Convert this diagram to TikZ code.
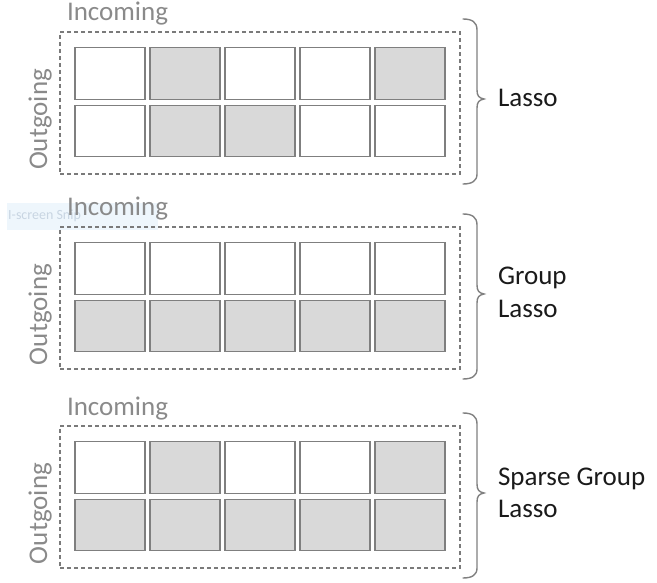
\documentclass[tikz,border=0pt]{standalone}
\usepackage{fontspec}
\setmainfont{Carlito}

\definecolor{cellline}{HTML}{7F7F7F}
\definecolor{cellfill}{HTML}{D9D9D9}
\definecolor{axislabel}{HTML}{8A8A8A}
\definecolor{framegray}{HTML}{7A7A7A}
\definecolor{bracegray}{HTML}{808080}
\definecolor{labeltext}{HTML}{1A1A1A}
\definecolor{snipbg}{HTML}{EEF6FC}
\definecolor{sniptext}{HTML}{C8D5E2}

\tikzset{
  cell/.style={draw=cellline, line width=1.4pt, minimum width=70pt,
    minimum height=51.5pt, inner sep=0pt, outer sep=0pt},
  frame/.style={draw=framegray, line width=1.1pt, dash pattern=on 4pt off 3pt},
  bracepath/.style={draw=bracegray, line width=1.4pt, line cap=round},
  axistext/.style={text=axislabel, font=\fontsize{27}{32}\selectfont,
    inner sep=0pt, outer sep=0pt},
  methodtext/.style={text=labeltext, font=\fontsize{27}{32}\selectfont,
    inner sep=0pt, outer sep=0pt, anchor=base west},
}

% one panel: #1 vertical offset, #2 name prefix,
% #3 fills of the upper row, #4 fills of the lower row
\newcommand\weightpanel[4]{%
  \begin{scope}[yshift=-#1pt]
    \node[axistext, anchor=base west] (#2in) at (67,21) {Incoming};
    \node[axistext, anchor=base west, rotate=90] (#2out) at (47,170) {Outgoing};
    \node[frame, minimum width=400pt, minimum height=142pt, inner sep=0pt]
      (#2frame) at (260,103) {};
    \foreach \f [count=\i] in {#3} {
      \node[cell, fill=\f] (#2r1c\i) at (35+75*\i,73.5) {};
    }
    \foreach \f [count=\i] in {#4} {
      \node[cell, fill=\f] (#2r2c\i) at (35+75*\i,131) {};
    }
    \draw[bracepath] (463,19) .. controls (472,19) and (477,22) .. (477,30)
      -- (477,90) .. controls (477,96) and (479,98) .. (484,99)
      .. controls (479,100) and (477,102) .. (477,108)
      -- (477,174) .. controls (477,181) and (472,184) .. (463,184);
  \end{scope}}

\begin{document}
\begin{tikzpicture}[x=1pt, y=-1pt]
  \useasboundingbox (0,0) rectangle (657,583);

  % snipping-tool tab lying behind the second heading
  \fill[snipbg] (7,203) rectangle (158,230);
  \node[text=sniptext, font=\fontsize{14}{16}\selectfont, anchor=base west,
    inner sep=0pt] (snip) at (8,220) {I-screen Snip};

  \weightpanel{0}{a}{white,cellfill,white,white,cellfill}{white,cellfill,cellfill,white,white}
  \weightpanel{195}{b}{white,white,white,white,white}{cellfill,cellfill,cellfill,cellfill,cellfill}
  \weightpanel{394}{c}{white,cellfill,white,white,cellfill}{cellfill,cellfill,cellfill,cellfill,cellfill}

  \node[methodtext] (lasso) at (498,107) {Lasso};
  \node[methodtext] (group1) at (498,285) {Group};
  \node[methodtext] (group2) at (498,317) {Lasso};
  \node[methodtext] (sparse1) at (498,485) {Sparse Group};
  \node[methodtext] (sparse2) at (498,517) {Lasso};
\end{tikzpicture}
\end{document}
